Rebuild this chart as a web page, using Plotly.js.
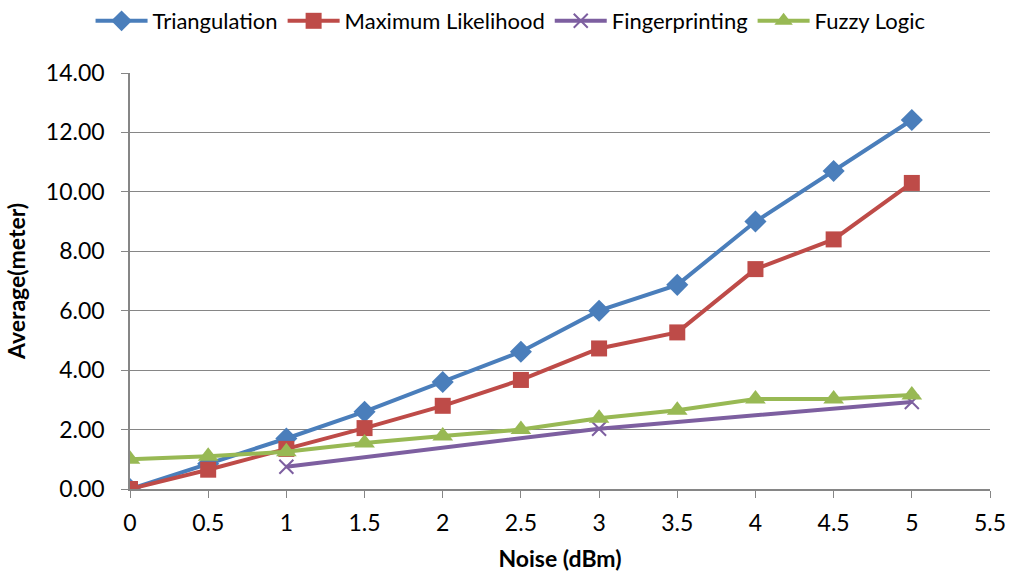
<!DOCTYPE html>
<html><head><meta charset="utf-8">
<script src="https://cdn.plot.ly/plotly-3.0.1.min.js"></script>
<style>body{margin:0}#chart{width:1011px;height:580px}</style>
</head><body><div id="chart"></div>
<script>
const noise = [0, 0.5, 1, 1.5, 2, 2.5, 3, 3.5, 4, 4.5, 5];
const triangulation = [0.00, 0.85, 1.70, 2.60, 3.60, 4.62, 6.00, 6.87, 9.00, 10.70, 12.42];
const maxLikelihood = [0.00, 0.65, 1.35, 2.05, 2.80, 3.67, 4.73, 5.27, 7.40, 8.40, 10.30];
const fpNoise = [1, 3, 5];
const fingerprinting = [0.75, 2.03, 2.93];
const fuzzyLogic = [1.00, 1.10, 1.25, 1.55, 1.78, 2.00, 2.38, 2.65, 3.03, 3.03, 3.16];
const xTicks = [0, 0.5, 1, 1.5, 2, 2.5, 3, 3.5, 4, 4.5, 5, 5.5];
const yTicks = [0, 2, 4, 6, 8, 10, 12, 14];

const font = "Lato, 'Open Sans', sans-serif";
function tr(name, x, y, color, symbol, size) {
  return {type:'scatter', mode:'lines+markers', name, x, y,
    line:{color, width:4}, marker:{color, symbol, size, line:{width: symbol==='x-thin'?2:0, color}}};
}
const data = [
  tr('Triangulation', noise, triangulation, '#4a7ebb', 'diamond', 17),
  tr('Maximum Likelihood', noise, maxLikelihood, '#be4b48', 'square', 16),
  tr('Fingerprinting', fpNoise, fingerprinting, '#7d5fa0', 'x-thin', 14),
  tr('Fuzzy Logic', noise, fuzzyLogic, '#98b954', 'triangle-up', 18)
];
const layout = {
  width:1011, height:580,
  margin:{l:130, r:21, t:73, b:91, autoexpand:false},
  paper_bgcolor:'#fff', plot_bgcolor:'#fff',
  font:{family:font, size:23, color:'#000'},
  showlegend:true,
  legend:{orientation:'h', xref:'container', yref:'container', x:0.505, xanchor:'center', y:1, yanchor:'top',
    font:{size:22}, itemwidth:52, traceorder:'normal', tracegroupgap:0},
  xaxis:{range:[0,5.5], tickvals:xTicks, ticktext:xTicks.map(String), showgrid:false, zeroline:false,
    showline:true, linecolor:'#868686', linewidth:1.5, ticks:'outside', ticklen:7, tickcolor:'#868686',
    ticklabelstandoff:6, automargin:false,
    title:{text:'<b>Noise (dBm)</b>', font:{size:23}, standoff:16}},
  yaxis:{range:[0,14], tickvals:yTicks, ticktext:yTicks.map(v=>v.toFixed(2)), showgrid:true, gridcolor:'#868686', gridwidth:1.2,
    zeroline:false, showline:true, linecolor:'#868686', linewidth:1.5, ticks:'outside', ticklen:7, tickcolor:'#868686',
    ticklabelstandoff:12, automargin:false,
    title:{text:'<b>Average(meter)</b>', font:{size:23}, standoff:14}}
};
Plotly.newPlot('chart', data, layout, {displayModeBar:false});
</script></body></html>
